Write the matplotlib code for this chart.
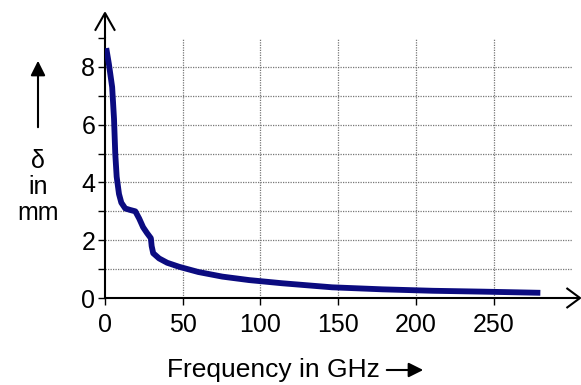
import matplotlib
matplotlib.use("Agg")
import matplotlib.pyplot as plt
from matplotlib.ticker import MultipleLocator

plt.rcParams['font.family'] = ['Liberation Sans', 'DejaVu Sans']

freq_ghz = [0.8, 2.5, 4.6, 5.8, 6.6, 7.5, 9.0, 10.5, 13.0, 16.0, 19.5, 22.0, 24.5,
            27.0, 29.5, 30.0, 31.0, 34.8, 40.0, 47.7, 60.0, 75.5, 92.7, 114.0,
            146.0, 178.5, 210.8, 243.0, 280.0]
delta_mm = [8.65, 8.1, 7.3, 6.2, 5.0, 4.2, 3.6, 3.3, 3.1, 3.05, 3.0, 2.75, 2.45,
            2.25, 2.07, 1.8, 1.55, 1.37, 1.22, 1.08, 0.9, 0.74, 0.62, 0.51,
            0.37, 0.30, 0.25, 0.22, 0.18]

x_ticks = [0, 50, 100, 150, 200, 250]
y_ticks = [0, 2, 4, 6, 8]

fig = plt.figure(figsize=(5.81, 3.85), dpi=100)
ax = fig.add_axes([105 / 581, 1 - 298 / 385, 468 / 581, 260 / 385])

ax.plot(freq_ghz, delta_mm, color='#0b0b80', lw=4.2, solid_capstyle='butt', zorder=3)

ax.set_xlim(0, 301)
ax.set_ylim(0, 9)
ax.set_xticks(x_ticks)
ax.set_yticks(y_ticks)
ax.yaxis.set_minor_locator(MultipleLocator(1))
ax.tick_params(axis='both', which='both', direction='out', length=5, width=1,
               labelsize=18, color='black')
ax.tick_params(axis='x', pad=6)
ax.tick_params(axis='y', pad=2)

for v in x_ticks[1:]:
    ax.axvline(v, color='#777777', lw=0.9, ls=(0, (1, 1)), zorder=1)
for v in range(1, 9):
    ax.axhline(v, color='#777777', lw=0.9, ls=(0, (1, 1)), zorder=1)

for s in ['top', 'right']:
    ax.spines[s].set_visible(False)
ax.spines['left'].set_linewidth(1.5)
ax.spines['bottom'].set_linewidth(1.5)

# axis arrows (open chevrons), in axes fraction
kw = dict(transform=ax.transAxes, clip_on=False, color='black', lw=1.5, solid_capstyle='butt')
ax.plot([0, 0], [1.0, 1.096], **kw)
ax.plot([-0.0214, 0, 0.0214], [1.028, 1.096, 1.028], **kw)
ax.plot([1.0, 1.015], [0, 0], **kw)
ax.plot([0.986, 1.015, 0.986], [-0.0385, 0, 0.0385], **kw)

# y label with up arrow
fig.text(38 / 581, 1 - 187 / 385, "δ\nin\nmm", ha='center', va='center', fontsize=18,
         linespacing=1.12)
fig.patches.append(matplotlib.patches.FancyArrowPatch(
    (38 / 581, 1 - 130 / 385), (38 / 581, 1 - 58 / 385), transform=fig.transFigure,
    arrowstyle='-|>', mutation_scale=22, lw=1.5, color='black'))

# x label with right arrow
fig.text(273 / 581, 1 - 370 / 385, "Frequency in GHz", ha='center', va='center', fontsize=19)
fig.patches.append(matplotlib.patches.FancyArrowPatch(
    (384 / 581, 1 - 370 / 385), (426 / 581, 1 - 370 / 385), transform=fig.transFigure,
    arrowstyle='-|>', mutation_scale=22, lw=1.5, color='black'))

fig.savefig('out.png', dpi=100)
